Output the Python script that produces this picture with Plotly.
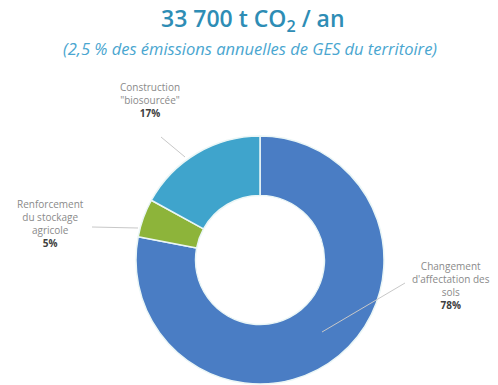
import plotly.graph_objects as go

W, H = 498, 385

categories = ["Changement d'affectation des sols", "Renforcement du stockage agricole", "Construction \"biosourcée\""]
label_texts = ["Changement<br>d'affectation des<br>sols", "Renforcement<br>du stockage<br>agricole", "Construction<br>\"biosourcée\""]
values = [78, 5, 17]
colors = ["#4A7DC4", "#8DB43A", "#3FA4CC"]

title_text = "33 700 t CO<sub>2</sub> / an"
subtitle_text = "(2,5 % des émissions annuelles de GES du territoire)"


def px(x):
    return x / W


def py(y):
    return 1 - y / H


fig = go.Figure()
fig.add_trace(go.Pie(
    labels=categories,
    values=values,
    sort=False,
    direction="clockwise",
    rotation=0,
    hole=0.52,
    marker=dict(colors=colors, line=dict(color="#EAF6F6", width=1.5)),
    textinfo="none",
    hoverinfo="label+percent",
    domain=dict(x=[px(136), px(384)], y=[py(384), py(136)]),
    showlegend=False,
))

# label positions (pixel centres) and leader lines
label_pos = [(451, 285), (50, 223), (150, 100)]
leaders = [((405, 283), (322, 332)), ((92, 227), (138, 228)), ((161, 137), (185, 157))]

annotations = []
for txt, v, (lx, ly) in zip(label_texts, values, label_pos):
    annotations.append(dict(
        x=px(lx), y=py(ly), xref="paper", yref="paper",
        text=f"{txt}<br><b style='color:#404040'>{v}%</b>",
        showarrow=False, xanchor="center", yanchor="middle",
        font=dict(family="Open Sans", size=10, color="#8A8A8A"),
        align="center",
    ))

annotations.append(dict(
    x=px(253), y=py(19), xref="paper", yref="paper",
    text=title_text, showarrow=False, xanchor="center", yanchor="middle",
    font=dict(family="Open Sans", size=23, color="#2E8DB5", weight=600),
))
annotations.append(dict(
    x=px(250), y=py(49), xref="paper", yref="paper",
    text=f"<i>{subtitle_text}</i>", showarrow=False, xanchor="center", yanchor="middle",
    font=dict(family="Open Sans", size=16.5, color="#4AA6D0"),
))

shapes = []
for (x0, y0), (x1, y1) in leaders:
    shapes.append(dict(type="line", xref="paper", yref="paper",
                       x0=px(x0), y0=py(y0), x1=px(x1), y1=py(y1),
                       line=dict(color="#C8C8C8", width=1)))

fig.update_layout(
    width=W, height=H,
    margin=dict(l=0, r=0, t=0, b=0),
    paper_bgcolor="white", plot_bgcolor="white",
    annotations=annotations, shapes=shapes,
)

fig.write_html("out.html")
